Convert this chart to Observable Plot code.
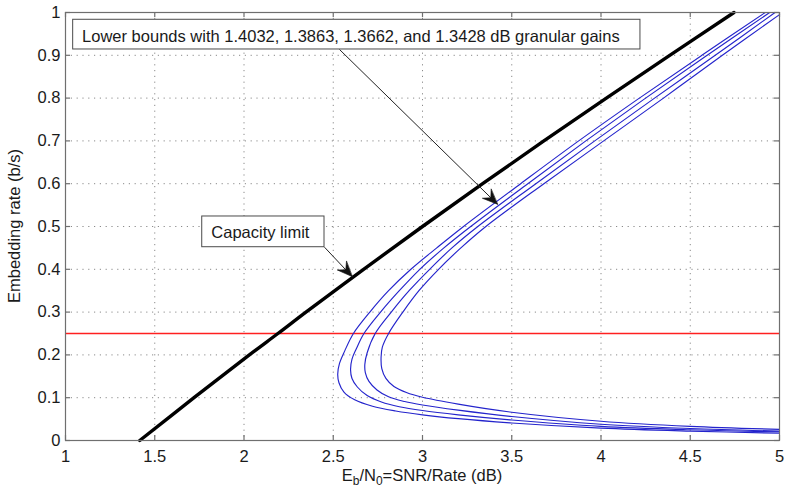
<!DOCTYPE html>
<html><head><meta charset="utf-8">
<script src="https://cdn.jsdelivr.net/npm/d3@7"></script>
<script src="https://cdn.jsdelivr.net/npm/@observablehq/plot@0.6"></script>
<style>
html,body{margin:0;padding:0;background:#fff;}
#chart{width:788px;height:488px;overflow:hidden;}
</style></head><body><div id="chart"></div>
<script>
// ---- ticks ----
const xTicks = [1, 1.5, 2, 2.5, 3, 3.5, 4, 4.5, 5];
const xTickLabels = ["1", "1.5", "2", "2.5", "3", "3.5", "4", "4.5", "5"];
const yTicks = [0, 0.1, 0.2, 0.3, 0.4, 0.5, 0.6, 0.7, 0.8, 0.9, 1];
const yTickLabels = ["0", "0.1", "0.2", "0.3", "0.4", "0.5", "0.6", "0.7", "0.8", "0.9", "1"];
const yLabel = "Embedding rate (b/s)";
const xLabelParts = [["E", false], ["b", true], ["/N", false], ["0", true], ["=SNR/Rate (dB)", false]];

// ---- capacity limit ----
const capacityEbN0 = [1.416, 1.72, 2.03, 2.19, 2.347, 2.67, 3.0, 3.337, 3.68, 4.03, 4.385, 4.745];
const capacityRate = [0, 0.1, 0.2, 0.25, 0.3, 0.4, 0.5, 0.6, 0.7, 0.8, 0.9, 1.0];

// ---- lower bounds (granular gains) ----
const boundNames = ["1.4032 dB", "1.3863 dB", "1.3662 dB", "1.3428 dB"];
const bound1EbN0 = [5.0, 4.5, 4.0, 3.5, 3.2, 3.0, 2.85, 2.72, 2.62, 2.56, 2.532, 2.525, 2.535, 2.565, 2.613, 2.705, 2.81, 2.935, 3.08, 3.23, 3.55, 3.875, 4.215, 4.565, 4.92];
const bound1Rate = [0.017, 0.022, 0.029, 0.041, 0.051, 0.060, 0.069, 0.080, 0.095, 0.113, 0.135, 0.155, 0.18, 0.21, 0.25, 0.30, 0.35, 0.40, 0.45, 0.50, 0.60, 0.70, 0.80, 0.90, 1.0];
const bound2EbN0 = [5.0, 4.5, 4.0, 3.5, 3.2, 3.0, 2.87, 2.77, 2.69, 2.635, 2.605, 2.597, 2.605, 2.63, 2.672, 2.765, 2.87, 2.985, 3.12, 3.27, 3.59, 3.915, 4.25, 4.595, 4.945];
const bound2Rate = [0.020, 0.025, 0.033, 0.048, 0.060, 0.070, 0.079, 0.090, 0.105, 0.125, 0.145, 0.165, 0.19, 0.215, 0.25, 0.30, 0.35, 0.40, 0.45, 0.50, 0.60, 0.70, 0.80, 0.90, 1.0];
const bound3EbN0 = [5.0, 4.5, 4.0, 3.5, 3.2, 3.0, 2.9, 2.81, 2.745, 2.70, 2.68, 2.677, 2.69, 2.735, 2.825, 2.925, 3.04, 3.165, 3.31, 3.635, 3.965, 4.30, 4.64, 4.975];
const bound3Rate = [0.022, 0.028, 0.038, 0.056, 0.071, 0.083, 0.091, 0.102, 0.118, 0.138, 0.158, 0.178, 0.205, 0.25, 0.30, 0.35, 0.40, 0.45, 0.50, 0.60, 0.70, 0.80, 0.90, 1.0];
const bound4EbN0 = [5.0, 4.5, 4.0, 3.5, 3.2, 3.0, 2.91, 2.84, 2.795, 2.772, 2.768, 2.775, 2.81, 2.89, 2.98, 3.09, 3.215, 3.355, 3.68, 4.015, 4.35, 4.68, 5.0];
const bound4Rate = [0.026, 0.033, 0.045, 0.066, 0.085, 0.101, 0.112, 0.126, 0.145, 0.168, 0.195, 0.218, 0.25, 0.30, 0.35, 0.40, 0.45, 0.50, 0.60, 0.70, 0.80, 0.90, 0.995];

// ---- reference rate ----
const referenceRate = [0.25];

// ---- annotations (data coordinates) ----
const annoLabels = ["Lower bounds with 1.4032, 1.3863, 1.3662, and 1.3428 dB granular gains", "Capacity limit"];
const annoTextX = [1.093, 1.817];
const annoTextY = [0.931, 0.473];
const annoBoxX1 = [1.043, 1.766];
const annoBoxX2 = [4.221, 2.451];
const annoBoxY1 = [0.9136, 0.4516];
const annoBoxY2 = [0.983, 0.5234];
const arrowX1 = [2.535, 2.451];
const arrowY1 = [0.9136, 0.4516];
const arrowX2 = [3.42, 2.606];
const arrowY2 = [0.552, 0.383];

// ---- layout ----
const W = 788, H = 488, mL = 65, mR = 9, mT = 12, mB = 48;
const plotW = W - mL - mR, plotH = H - mT - mB;
const fontFamily = "'Liberation Sans', Arial, Helvetica, sans-serif";
const axisGray = "#6f6f6f";
const xDomain = [1, 5], yDomain = [0, 1];

// ---- build tables ----
const capacity = capacityEbN0.map((x, i) => ({x, y: capacityRate[i]}));
const boundsX = [bound1EbN0, bound2EbN0, bound3EbN0, bound4EbN0];
const boundsY = [bound1Rate, bound2Rate, bound3Rate, bound4Rate];
const bounds = boundsX.flatMap((xs, k) => xs.map((x, i) => ({x, y: boundsY[k][i], series: boundNames[k]})));

// screen angle of each annotation arrow, from the same scales the plot uses
const sx = Plot.scale({x: {domain: xDomain, range: [mL, W - mR]}});
const sy = Plot.scale({y: {domain: yDomain, range: [H - mB, mT]}});
const annos = annoLabels.map((t, i) => {
  const dx = sx.apply(arrowX2[i]) - sx.apply(arrowX1[i]);
  const dy = sy.apply(arrowY2[i]) - sy.apply(arrowY1[i]);
  return {t, tx: annoTextX[i], ty: annoTextY[i], bx1: annoBoxX1[i], bx2: annoBoxX2[i], by1: annoBoxY1[i], by2: annoBoxY2[i],
    ax1: arrowX1[i], ay1: arrowY1[i], ax2: arrowX2[i], ay2: arrowY2[i], angle: Math.atan2(dx, -dy) * 180 / Math.PI};
});

// barbed, filled arrowhead (tip at the vector's end)
const barbHead = {
  draw(context, l) {
    const w = l * 0.42;
    context.moveTo(0, -l);
    context.lineTo(w, 0);
    context.lineTo(0, -l * 0.38);
    context.lineTo(-w, 0);
    context.closePath();
  }
};

const svg = Plot.plot({
  width: W, height: H,
  marginLeft: mL, marginRight: mR, marginTop: mT, marginBottom: mB,
  style: {fontFamily, fontSize: "16.5px", color: "#1a1a1a", background: "#fff"},
  x: {domain: xDomain},
  y: {domain: yDomain},
  marks: [
    Plot.gridX(xTicks, {stroke: "#8a8a8a", strokeOpacity: 1, strokeDasharray: "1.2,4.6"}),
    Plot.gridY(yTicks, {stroke: "#8a8a8a", strokeOpacity: 1, strokeDasharray: "1.2,4.6"}),
    Plot.ruleY(referenceRate, {y: d => d, stroke: "#ff2020", strokeWidth: 1.5}),
    Plot.line(bounds, {x: "x", y: "y", z: "series", stroke: "#2424cc", strokeWidth: 1.15, curve: "catmull-rom"}),
    Plot.line(capacity, {x: "x", y: "y", stroke: "#000", strokeWidth: 3.4, curve: "catmull-rom"}),
    Plot.rect(annos, {x1: "bx1", x2: "bx2", y1: "by1", y2: "by2", fill: "#fff", stroke: "#4a4a4a", strokeWidth: 1}),
    Plot.text(annos, {x: "tx", y: "ty", text: "t", textAnchor: "start", lineAnchor: "bottom", fill: "#1a1a1a", fontSize: 16.5}),
    Plot.link(annos, {x1: "ax1", y1: "ay1", x2: "ax2", y2: "ay2", stroke: "#222", strokeWidth: 1}),
    Plot.vector(annos, {x: "ax2", y: "ay2", rotate: "angle", length: 15, anchor: "end", shape: barbHead, fill: "#111", stroke: "#111", strokeWidth: 0.6}),
    Plot.frame({stroke: axisGray, strokeWidth: 1.2}),
    Plot.tickX(xTicks, {x: d => d, insetTop: plotH - 5, stroke: axisGray, strokeWidth: 1.2}),
    Plot.tickX(xTicks, {x: d => d, insetBottom: plotH - 5, stroke: axisGray, strokeWidth: 1.2}),
    Plot.tickY(yTicks, {y: d => d, insetRight: plotW - 5, stroke: axisGray, strokeWidth: 1.2}),
    Plot.tickY(yTicks, {y: d => d, insetLeft: plotW - 5, stroke: axisGray, strokeWidth: 1.2}),
    Plot.axisX(xTicks, {tickSize: 0, tickPadding: 10, tickFormat: d => xTickLabels[xTicks.indexOf(d)], label: null, fontSize: 16.5}),
    Plot.axisY(yTicks, {tickSize: 0, tickPadding: 5, tickFormat: d => yTickLabels[yTicks.indexOf(d)], label: null, fontSize: 16.5})
  ]
});

// axis titles with subscripts
const s = d3.select(svg);
const xl = s.append("text")
  .attr("x", mL + plotW / 2).attr("y", H - 7)
  .attr("text-anchor", "middle").attr("fill", "#1a1a1a")
  .style("font-family", fontFamily).style("font-size", "16.5px");
xLabelParts.forEach(([t, sub], i) => {
  const prevSub = i > 0 && xLabelParts[i - 1][1];
  const tsp = xl.append("tspan").text(t);
  if (sub) tsp.attr("dy", 4).style("font-size", "12px");
  else if (prevSub) tsp.attr("dy", -4);
});
s.append("text")
  .attr("transform", `translate(19.5,${mT + plotH / 2}) rotate(-90)`)
  .attr("text-anchor", "middle").attr("fill", "#1a1a1a")
  .style("font-family", fontFamily).style("font-size", "16.5px")
  .text(yLabel);

document.getElementById("chart").appendChild(svg);
</script>
</body></html>
